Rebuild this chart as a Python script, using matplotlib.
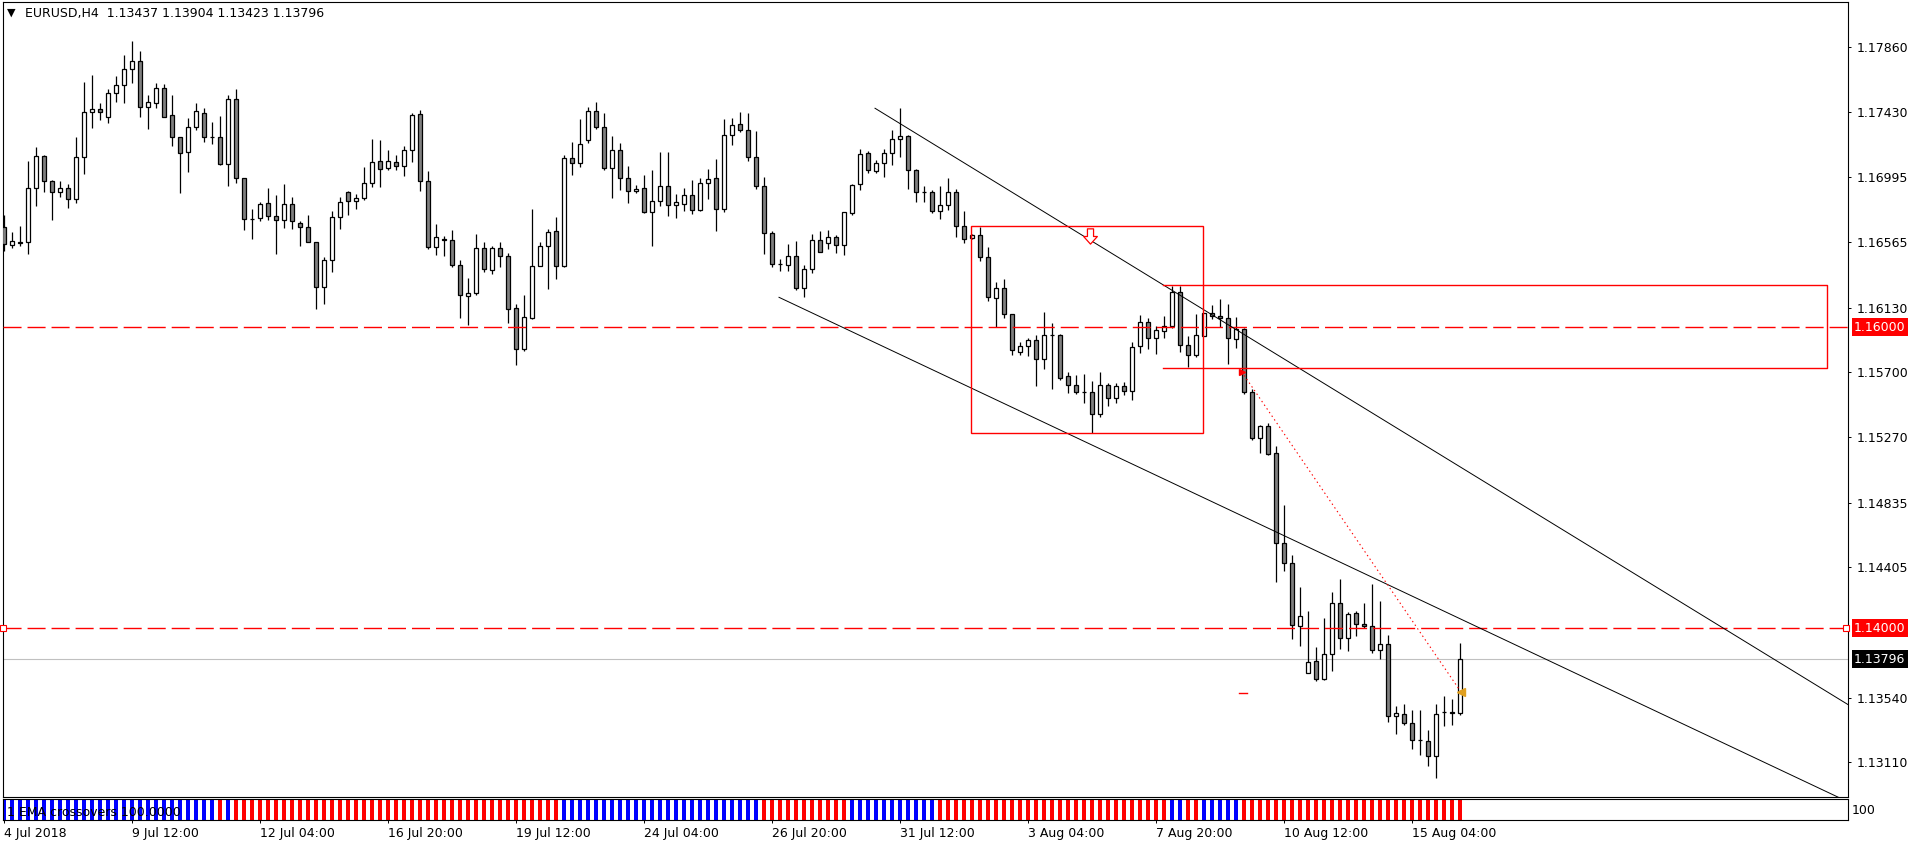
#!/usr/bin/env python3
import numpy as np
import matplotlib
matplotlib.use('Agg')
import matplotlib.pyplot as plt
from matplotlib.patches import Rectangle
from matplotlib.path import Path
from matplotlib.transforms import blended_transform_factory

W, H, DPI = 1916, 847, 100

# EURUSD H4 candles, 4 Jul 2018 20:00 .. 16 Aug 2018 04:00
opens = [
    1.16664, 1.16544, 1.16566, 1.16564, 1.16923, 1.17135, 1.16969, 1.16896, 1.16923, 1.16850,
    1.17129, 1.17428, 1.17448, 1.17394, 1.17554, 1.17607, 1.17713, 1.17766, 1.17461, 1.17487,
    1.17587, 1.17408, 1.17262, 1.17162, 1.17328, 1.17421, 1.17262, 1.17262, 1.17082, 1.17514,
    1.16989, 1.16721, 1.16723, 1.16825, 1.16737, 1.16710, 1.16819, 1.16690, 1.16664, 1.16564,
    1.16265, 1.16444, 1.16730, 1.16896, 1.16836, 1.16856, 1.16956, 1.17102, 1.17056, 1.17096,
    1.17069, 1.17175, 1.17414, 1.16969, 1.16531, 1.16584, 1.16577, 1.16411, 1.16205, 1.16225,
    1.16525, 1.16378, 1.16525, 1.16471, 1.16126, 1.15854, 1.16060, 1.16405, 1.16538, 1.16638,
    1.16405, 1.17122, 1.17089, 1.17242, 1.17435, 1.17328, 1.17056, 1.17176, 1.16990, 1.16903,
    1.16923, 1.16764, 1.16837, 1.16936, 1.16810, 1.16817, 1.16877, 1.16777, 1.16956, 1.16990,
    1.16784, 1.17275, 1.17348, 1.17308, 1.17129, 1.16936, 1.16624, 1.16418, 1.16412, 1.16471,
    1.16259, 1.16385, 1.16578, 1.16558, 1.16598, 1.16545, 1.16757, 1.16950, 1.17156, 1.17036,
    1.17089, 1.17156, 1.17249, 1.17269, 1.17043, 1.16897, 1.16897, 1.16770, 1.16810, 1.16897,
    1.16671, 1.16593, 1.16611, 1.16465, 1.16192, 1.16259, 1.16086, 1.15834, 1.15874, 1.15913,
    1.15787, 1.15947, 1.15947, 1.15674, 1.15614, 1.15570, 1.15568, 1.15422, 1.15614, 1.15528,
    1.15608, 1.15575, 1.15874, 1.16033, 1.15927, 1.15973, 1.16006, 1.16232, 1.15880, 1.15814,
    1.15940, 1.16093, 1.16073, 1.16060, 1.15920, 1.15986, 1.15568, 1.15262, 1.15342, 1.15163,
    1.14565, 1.14432, 1.14013, 1.13701, 1.13781, 1.13661, 1.13827, 1.14166, 1.13934, 1.14100,
    1.14027, 1.14013, 1.13854, 1.13894, 1.13416, 1.13429, 1.13369, 1.13256, 1.13249, 1.13150,
    1.13442, 1.13442, 1.13437,
]
highs = [
    1.16746, 1.16633, 1.16673, 1.17104, 1.17197, 1.17144, 1.16978, 1.16969, 1.16952, 1.17264,
    1.17629, 1.17676, 1.17490, 1.17580, 1.17669, 1.17809, 1.17902, 1.17835, 1.17543, 1.17620,
    1.17614, 1.17543, 1.17262, 1.17388, 1.17490, 1.17454, 1.17363, 1.17401, 1.17541, 1.17583,
    1.16989, 1.16785, 1.16832, 1.16925, 1.16878, 1.16952, 1.16865, 1.16704, 1.16746, 1.16564,
    1.16467, 1.16772, 1.16865, 1.16903, 1.16885, 1.17064, 1.17251, 1.17242, 1.17177, 1.17142,
    1.17204, 1.17421, 1.17441, 1.17036, 1.16686, 1.16604, 1.16644, 1.16447, 1.16329, 1.16617,
    1.16564, 1.16540, 1.16564, 1.16491, 1.16155, 1.16215, 1.16786, 1.16564, 1.16651, 1.16735,
    1.17142, 1.17231, 1.17384, 1.17463, 1.17497, 1.17424, 1.17271, 1.17222, 1.17069, 1.16943,
    1.17010, 1.17043, 1.17162, 1.17162, 1.16883, 1.16923, 1.16976, 1.16990, 1.17049, 1.17116,
    1.17382, 1.17388, 1.17428, 1.17421, 1.17302, 1.16996, 1.16638, 1.16452, 1.16551, 1.16571,
    1.16412, 1.16618, 1.16638, 1.16644, 1.16611, 1.16764, 1.16950, 1.17182, 1.17169, 1.17109,
    1.17182, 1.17308, 1.17457, 1.17275, 1.17049, 1.16936, 1.16910, 1.16936, 1.16990, 1.16917,
    1.16773, 1.16620, 1.16668, 1.16533, 1.16299, 1.16319, 1.16086, 1.15900, 1.15927, 1.15947,
    1.16099, 1.16026, 1.15953, 1.15701, 1.15681, 1.15688, 1.15641, 1.15701, 1.15628, 1.15628,
    1.15634, 1.15900, 1.16079, 1.16060, 1.16006, 1.16073, 1.16272, 1.16272, 1.15940, 1.16086,
    1.16093, 1.16146, 1.16186, 1.16153, 1.16066, 1.15993, 1.15588, 1.15349, 1.15362, 1.15209,
    1.14819, 1.14485, 1.14272, 1.14113, 1.13874, 1.14067, 1.14239, 1.14326, 1.14106, 1.14113,
    1.14166, 1.14292, 1.14179, 1.13954, 1.13482, 1.13495, 1.13455, 1.13455, 1.13322, 1.13495,
    1.13548, 1.13528, 1.13904,
]
lows = [
    1.16509, 1.16526, 1.16542, 1.16489, 1.16808, 1.16901, 1.16712, 1.16867, 1.16794, 1.16828,
    1.17020, 1.17326, 1.17377, 1.17359, 1.17499, 1.17492, 1.17620, 1.17399, 1.17319, 1.17459,
    1.17394, 1.17206, 1.16894, 1.17033, 1.17313, 1.17233, 1.17220, 1.17076, 1.16940, 1.16960,
    1.16648, 1.16588, 1.16704, 1.16710, 1.16489, 1.16661, 1.16655, 1.16542, 1.16564, 1.16123,
    1.16157, 1.16369, 1.16655, 1.16746, 1.16788, 1.16843, 1.16929, 1.16934, 1.17047, 1.17047,
    1.17007, 1.17100, 1.16907, 1.16522, 1.16482, 1.16475, 1.16402, 1.16064, 1.16013, 1.16212,
    1.16370, 1.16352, 1.16398, 1.16031, 1.15747, 1.15840, 1.16053, 1.16405, 1.16257, 1.16323,
    1.16398, 1.17010, 1.17063, 1.17222, 1.17315, 1.17043, 1.16861, 1.16910, 1.16828, 1.16890,
    1.16757, 1.16538, 1.16804, 1.16737, 1.16724, 1.16770, 1.16750, 1.16770, 1.16850, 1.16638,
    1.16764, 1.17209, 1.17295, 1.17103, 1.16917, 1.16485, 1.16398, 1.16372, 1.16372, 1.16246,
    1.16199, 1.16358, 1.16498, 1.16518, 1.16491, 1.16478, 1.16744, 1.16910, 1.17023, 1.17023,
    1.16996, 1.17076, 1.17129, 1.16917, 1.16830, 1.16830, 1.16757, 1.16717, 1.16777, 1.16598,
    1.16562, 1.16585, 1.16443, 1.16177, 1.16000, 1.16060, 1.15814, 1.15814, 1.15807, 1.15608,
    1.15721, 1.15592, 1.15648, 1.15561, 1.15555, 1.15495, 1.15296, 1.15402, 1.15475, 1.15495,
    1.15548, 1.15515, 1.15827, 1.15854, 1.15820, 1.15927, 1.15993, 1.15834, 1.15734, 1.15800,
    1.15940, 1.16053, 1.16000, 1.15754, 1.15860, 1.15555, 1.15249, 1.15163, 1.15149, 1.14310,
    1.14383, 1.13931, 1.13881, 1.13701, 1.13648, 1.13655, 1.13714, 1.13861, 1.13847, 1.13947,
    1.14000, 1.13834, 1.13794, 1.13376, 1.13296, 1.13356, 1.13196, 1.13156, 1.13083, 1.13004,
    1.13349, 1.13356, 1.13423,
]
closes = [
    1.16553, 1.16571, 1.16562, 1.16923, 1.17135, 1.16969, 1.16896, 1.16923, 1.16850, 1.17129,
    1.17428, 1.17448, 1.17428, 1.17554, 1.17607, 1.17713, 1.17766, 1.17461, 1.17494, 1.17587,
    1.17399, 1.17262, 1.17155, 1.17328, 1.17434, 1.17262, 1.17262, 1.17082, 1.17514, 1.16989,
    1.16717, 1.16721, 1.16819, 1.16737, 1.16710, 1.16819, 1.16704, 1.16664, 1.16564, 1.16265,
    1.16444, 1.16730, 1.16830, 1.16836, 1.16856, 1.16956, 1.17096, 1.17049, 1.17102, 1.17069,
    1.17175, 1.17408, 1.16969, 1.16531, 1.16597, 1.16580, 1.16411, 1.16212, 1.16225, 1.16524,
    1.16385, 1.16525, 1.16471, 1.16119, 1.15854, 1.16066, 1.16405, 1.16538, 1.16631, 1.16405,
    1.17122, 1.17089, 1.17215, 1.17435, 1.17328, 1.17056, 1.17176, 1.16990, 1.16903, 1.16917,
    1.16764, 1.16837, 1.16936, 1.16810, 1.16830, 1.16877, 1.16777, 1.16956, 1.16983, 1.16784,
    1.17275, 1.17342, 1.17308, 1.17129, 1.16936, 1.16624, 1.16418, 1.16418, 1.16471, 1.16259,
    1.16385, 1.16578, 1.16498, 1.16598, 1.16545, 1.16764, 1.16943, 1.17149, 1.17043, 1.17089,
    1.17156, 1.17249, 1.17269, 1.17043, 1.16897, 1.16897, 1.16770, 1.16810, 1.16897, 1.16671,
    1.16584, 1.16611, 1.16465, 1.16199, 1.16259, 1.16086, 1.15847, 1.15874, 1.15913, 1.15787,
    1.15947, 1.15947, 1.15661, 1.15614, 1.15568, 1.15570, 1.15422, 1.15614, 1.15528, 1.15608,
    1.15575, 1.15867, 1.16033, 1.15927, 1.15980, 1.16006, 1.16232, 1.15880, 1.15814, 1.15947,
    1.16093, 1.16073, 1.16060, 1.15927, 1.15986, 1.15568, 1.15262, 1.15342, 1.15156, 1.14565,
    1.14432, 1.14020, 1.14080, 1.13774, 1.13661, 1.13827, 1.14166, 1.13934, 1.14093, 1.14027,
    1.14013, 1.13854, 1.13894, 1.13416, 1.13435, 1.13369, 1.13256, 1.13256, 1.13150, 1.13429,
    1.13442, 1.13437, 1.13796,
]

# EMA crossover histogram: runs of (state, number of bars)
ema_runs = [('up', 27), ('down', 1), ('up', 1), ('down', 41), ('up', 25), ('down', 11),
            ('up', 11), ('down', 29), ('up', 2), ('down', 2), ('up', 5), ('down', 28)]

price_ticks = [1.17860, 1.17430, 1.16995, 1.16565, 1.16130, 1.15700,
               1.15270, 1.14835, 1.14405, 1.13540, 1.13110]
date_bars = [0, 16, 32, 48, 64, 80, 96, 112, 128, 144, 160, 176]
date_labels = ['4 Jul 2018', '9 Jul 12:00', '12 Jul 04:00', '16 Jul 20:00',
               '19 Jul 12:00', '24 Jul 04:00', '26 Jul 20:00', '31 Jul 12:00',
               '3 Aug 04:00', '7 Aug 20:00', '10 Aug 12:00', '15 Aug 04:00']

levels = [1.16000, 1.14000]
bid = 1.13796

# drawn objects (bar index, price)
trend_upper = [(108.875, 1.17455), (177.0, 1.15236)]
trend_lower = [(96.875, 1.16199), (192.0, 1.13813)]
box1 = (120.9, 149.9, 1.15296, 1.16671)
box2 = (144.9, 227.9, 1.15728, 1.16279)
dotted = [(154.7, 1.15705), (182.1, 1.13579)]
arrow_pos = (135.75, 1.16606)
dash_small = (154.4, 155.4, 1.13569)

plt.rcParams['font.family'] = 'DejaVu Sans'
plt.rcParams['lines.scale_dashes'] = False

def fx(px):
    return px / W

def fy(py):
    return 1 - py / H

fig = plt.figure(figsize=(W / DPI, H / DPI), dpi=DPI)
ax = fig.add_axes([fx(3), fy(797), fx(1848) - fx(3), fy(2) - fy(797)])
ind = fig.add_axes([fx(3), fy(820), fx(1848) - fx(3), fy(799) - fy(820)])

XL = (-0.125, 230.5)
o = np.array(opens); h = np.array(highs); l = np.array(lows); c = np.array(closes)
x = np.arange(len(o))

''' candles '''
ax.vlines(x, l, h, color='black', lw=0.9, zorder=2)
up = c >= o
fill = np.where(up, 'white', '#808080')
ax.bar(x, np.abs(c - o), bottom=np.minimum(o, c), width=0.5, color=fill,
       edgecolor='black', linewidth=0.9, zorder=3)

ax.set_xlim(*XL)
ax.set_ylim(1.128794, 1.181609)

''' objects '''
for lv in levels:
    ax.axhline(lv, color='red', lw=1.0, ls=(0, (13, 4.3)), zorder=5)
ax.plot([XL[0] + 0.05, XL[1] - 0.3], [levels[1]] * 2, 's', ms=4, mfc='white',
        mec='red', mew=0.8, zorder=6, clip_on=False)
ax.axhline(bid, color='#c0c0c0', lw=0.8, zorder=1)

for (x0, y0), (x1, y1) in [trend_upper, trend_lower]:
    k = (y1 - y0) / (x1 - x0)
    ax.plot([x0, XL[1]], [y0, y0 + k * (XL[1] - x0)], color='black', lw=0.7, zorder=5)

bx0, bx1, by0, by1 = box1
ax.add_patch(Rectangle((bx0, by0), bx1 - bx0, by1 - by0, fill=False,
                       edgecolor='red', lw=1.0, zorder=5))
bx0, bx1, by0, by1 = box2
ax.plot([bx0, bx1, bx1, bx0], [by1, by1, by0, by0], color='red', lw=1.0, zorder=5)

(dx0, dy0), (dx1, dy1) = dotted
ax.plot([dx0, dx1], [dy0, dy1], color='red', lw=0.8, ls=(0, (1, 2.2)), zorder=5)
ax.plot([dx0], [dy0], '>', color='red', ms=5, zorder=6)
ax.plot([dx1], [dy1], '<', color='#e0a020', ms=6, zorder=6)
ax.plot(dash_small[:2], [dash_small[2]] * 2, color='red', lw=1.0, zorder=5)

# hollow "sell" arrow
down_arrow = Path([(-0.2, 0.5), (0.2, 0.5), (0.2, 0.0), (0.45, 0.0), (0.0, -0.5),
                   (-0.45, 0.0), (-0.2, 0.0), (-0.2, 0.5)], closed=True)
ax.plot([arrow_pos[0]], [arrow_pos[1]], marker=down_arrow, ms=11, mfc='white',
        mec='red', mew=0.9, zorder=6)

''' price axis '''
ax.yaxis.tick_right()
ax.set_yticks(price_ticks)
ax.set_yticklabels([f'{p:.5f}' for p in price_ticks])
ax.tick_params(axis='y', length=2.5, width=0.7, pad=3.5, labelsize=9, colors='black')
ax.set_xticks([])
for s in ax.spines.values():
    s.set_linewidth(0.8)

tr = blended_transform_factory(ax.transAxes, ax.transData)
for val, fc in [(levels[0], 'red'), (levels[1], 'red'), (bid, 'black')]:
    ax.annotate(f'{val:.5f}', xy=(1, val), xycoords=tr, xytext=(6, 0),
                textcoords='offset pixels', va='center', ha='left', color='white',
                fontsize=9, annotation_clip=False,
                bbox=dict(boxstyle='square,pad=0.2', fc=fc, ec='none'))

''' header '''
fig.text(fx(7), fy(13), '\u25bc', fontsize=8, va='center', ha='left')
fig.text(fx(25), fy(14), 'EURUSD,H4  1.13437 1.13904 1.13423 1.13796',
         fontsize=9, va='center', ha='left')

''' indicator window '''
colors = []
for state, n in ema_runs:
    colors += ['#0000ff' if state == 'up' else '#ff0000'] * n
ind.bar(x, 1, width=0.4, color=colors, bottom=0)
ind.set_xlim(*XL)
ind.set_ylim(0, 1)
ind.set_yticks([])
ind.text(0.002, 0.38, '1 EMA crossovers 100.0000', transform=ind.transAxes,
         fontsize=9, va='center', ha='left')
for s in ind.spines.values():
    s.set_linewidth(0.8)
fig.text(fx(1852), fy(810), '100', fontsize=9, va='center', ha='left')

ind.set_xticks(date_bars)
ind.set_xticklabels(date_labels, ha='left')
ind.tick_params(axis='x', length=2.5, width=0.7, pad=2.5, labelsize=9)

fig.savefig('out.png', dpi=DPI)
